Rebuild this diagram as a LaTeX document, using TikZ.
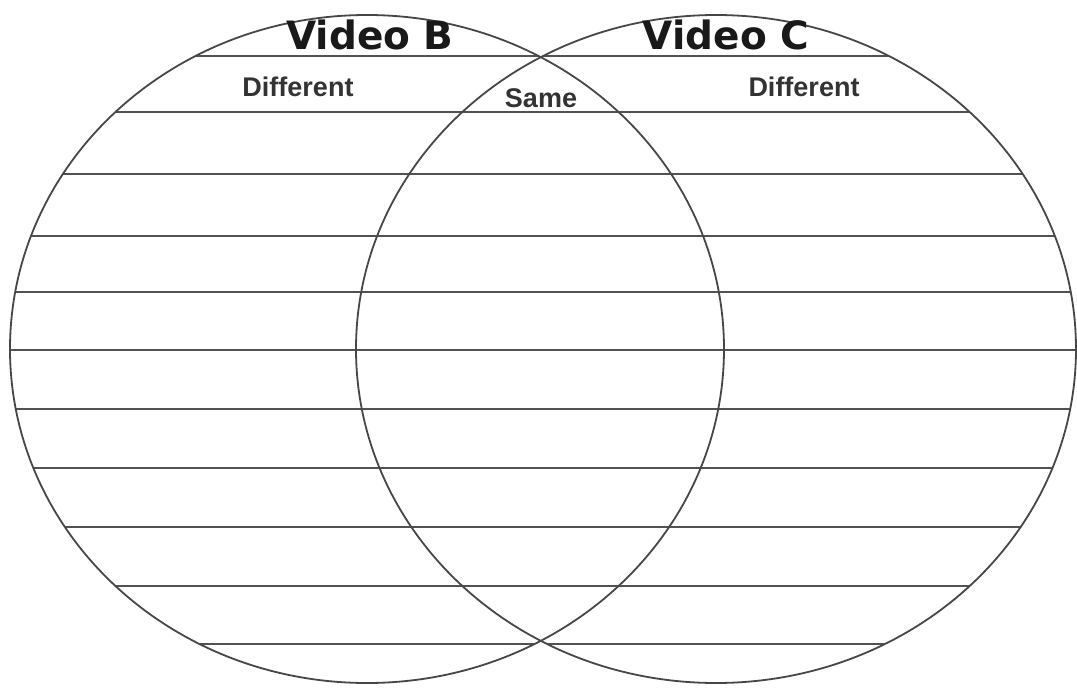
\documentclass[tikz,border=0pt]{standalone}
\usepackage{fontspec}
\setmainfont{Liberation Sans}
\newfontfamily\titlefont{DejaVu Sans}
\begin{document}
\begin{tikzpicture}[x=1pt,y=-1pt,
  ruleline/.style={draw=black!68,line width=1.8pt},
  ringline/.style={draw=black!72,line width=1.8pt},
  titletext/.style={font=\titlefont\bfseries\fontsize{39}{44}\selectfont,text=black!90,inner sep=0pt},
  labeltext/.style={font=\bfseries\fontsize{27}{30}\selectfont,text=black!80,inner sep=0pt}]
\useasboundingbox[fill=white] (0,0) rectangle (1077,688);
\coordinate (cl) at (367,349);
\coordinate (cr) at (716,349);
\begin{scope}
  \clip (cl) ellipse [x radius=357pt, y radius=334pt] (cr) ellipse [x radius=360pt, y radius=334pt];
  \foreach \yy in {56,112,174,236,292,350,409,468,527,586,644}
    \draw[ruleline] (0,\yy) -- (1077,\yy);
\end{scope}
\draw[ringline] (cl) ellipse [x radius=357pt, y radius=334pt];
\draw[ringline] (cr) ellipse [x radius=360pt, y radius=334pt];
\node[titletext] (vb) at (370,35) {Video B};
\node[titletext] (vc) at (726,35) {Video C};
\node[labeltext] (dl) at (298,87) {Different};
\node[labeltext] (sm) at (541,98) {Same};
\node[labeltext] (dr) at (804,87) {Different};
\end{tikzpicture}
\end{document}
